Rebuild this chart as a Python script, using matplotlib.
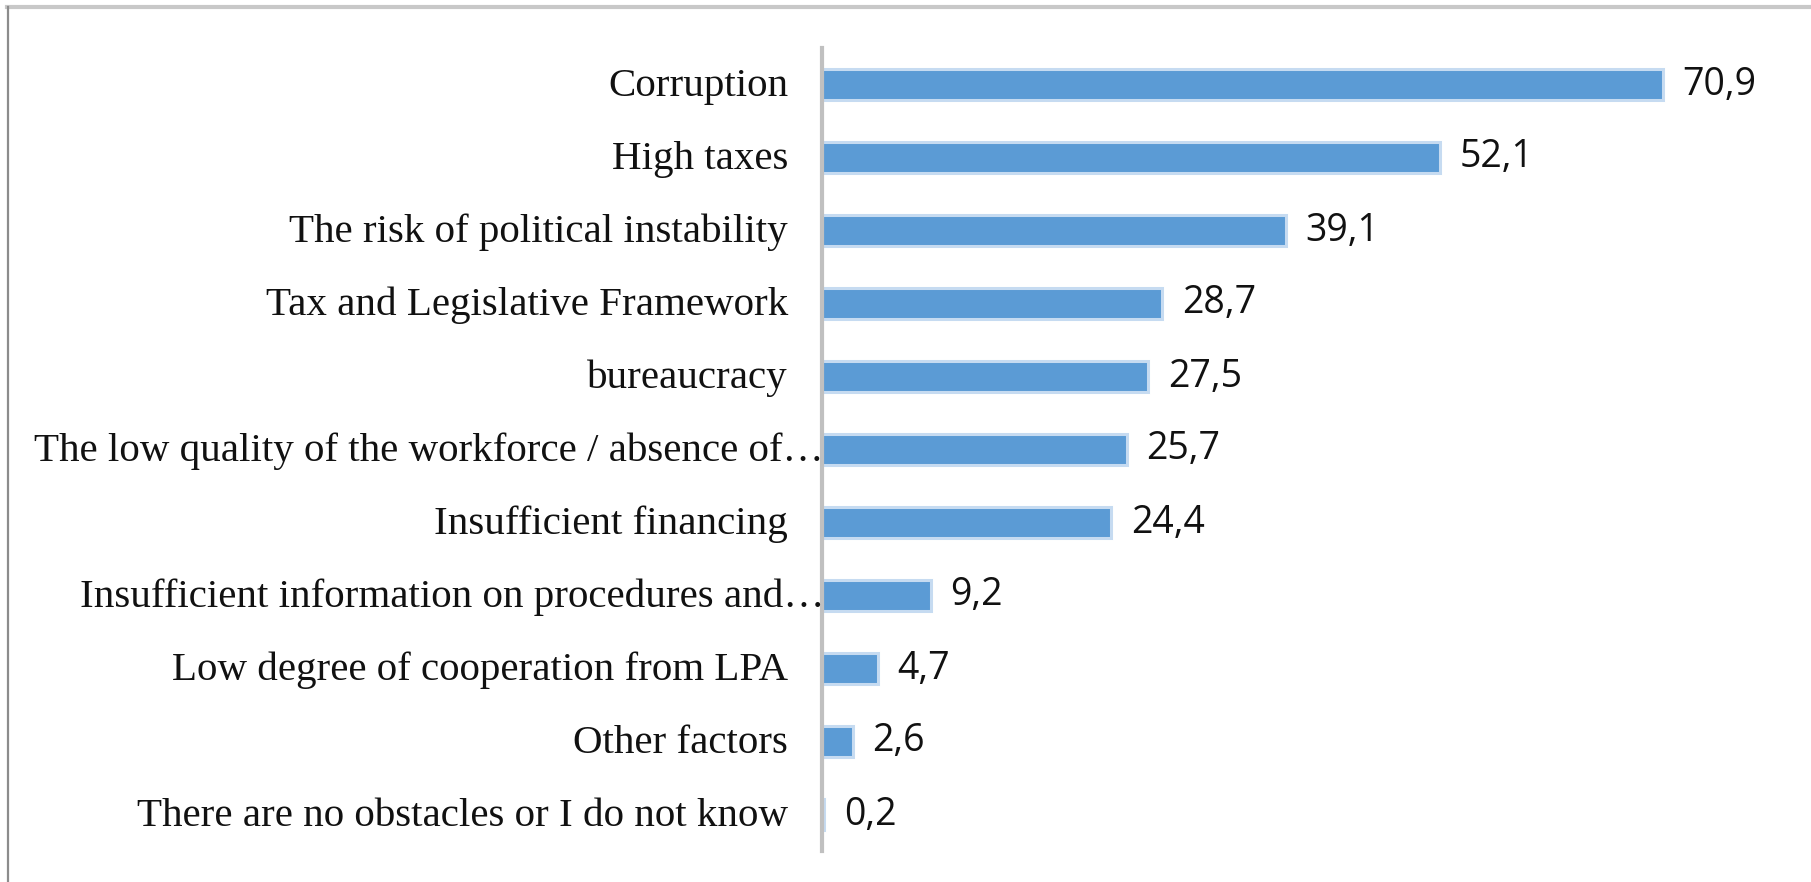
import matplotlib.pyplot as plt
from matplotlib.lines import Line2D
from matplotlib.transforms import blended_transform_factory, offset_copy

categories = ["Corruption", "High taxes", "The risk of political instability",
              "Tax and Legislative Framework", "bureaucracy",
              "The low quality of the workforce / absence of\u2026",
              "Insufficient financing",
              "Insufficient information on procedures and\u2026",
              "Low degree of cooperation from LPA", "Other factors",
              "There are no obstacles or I do not know"]
values = [70.9, 52.1, 39.1, 28.7, 27.5, 25.7, 24.4, 9.2, 4.7, 2.6, 0.2]
truncated = [False, False, False, False, False, True, False, True, False, False, False]

W, H = 1811, 882
fig = plt.figure(figsize=(W / 100, H / 100), dpi=100)
# axis runs from y=48 to y=851 px (from top), starts at x=822
ax = fig.add_axes([822 / W, 31 / H, (1771 - 822) / W, (851 - 48) / H])

y = list(range(len(values)))
ax.barh(y, values, height=0.42, color='#5b9bd5', edgecolor='#c6dbf1', linewidth=2.2)
ax.set_xlim(0, 80)
ax.set_ylim(len(values) - 0.5, -0.5)

for s in ['top', 'right', 'bottom']:
    ax.spines[s].set_visible(False)
ax.spines['left'].set_color('#c0c0c0')
ax.spines['left'].set_linewidth(3)
ax.set_xticks([])
ax.set_yticks([])

# category labels, serif, right aligned left of the axis
trans = blended_transform_factory(ax.transAxes, ax.transData)
for i, (c, t) in enumerate(zip(categories, truncated)):
    shift = 2 if t else -34
    tr = offset_copy(trans, fig=fig, x=shift, y=-2, units='dots')
    ax.text(0, i, c, transform=tr, ha='right', va='center',
            fontsize=29.5, family='Liberation Serif', color='#111111')

# value labels
for i, v in enumerate(values):
    ax.annotate(str(v).replace('.', ','), (v, i), xytext=(14, 0),
                textcoords='offset points', ha='left', va='center',
                fontsize=27, family='Open Sans', color='#111111')

# frame of the original chart box
fig.add_artist(Line2D([7 / W, 1], [1 - 7 / H, 1 - 7 / H], color='#c8c8c8', lw=3))
fig.add_artist(Line2D([8 / W, 8 / W], [0, 1 - 7 / H], color='#8c8c8c', lw=1.6))

fig.savefig('out.png', dpi=100)
